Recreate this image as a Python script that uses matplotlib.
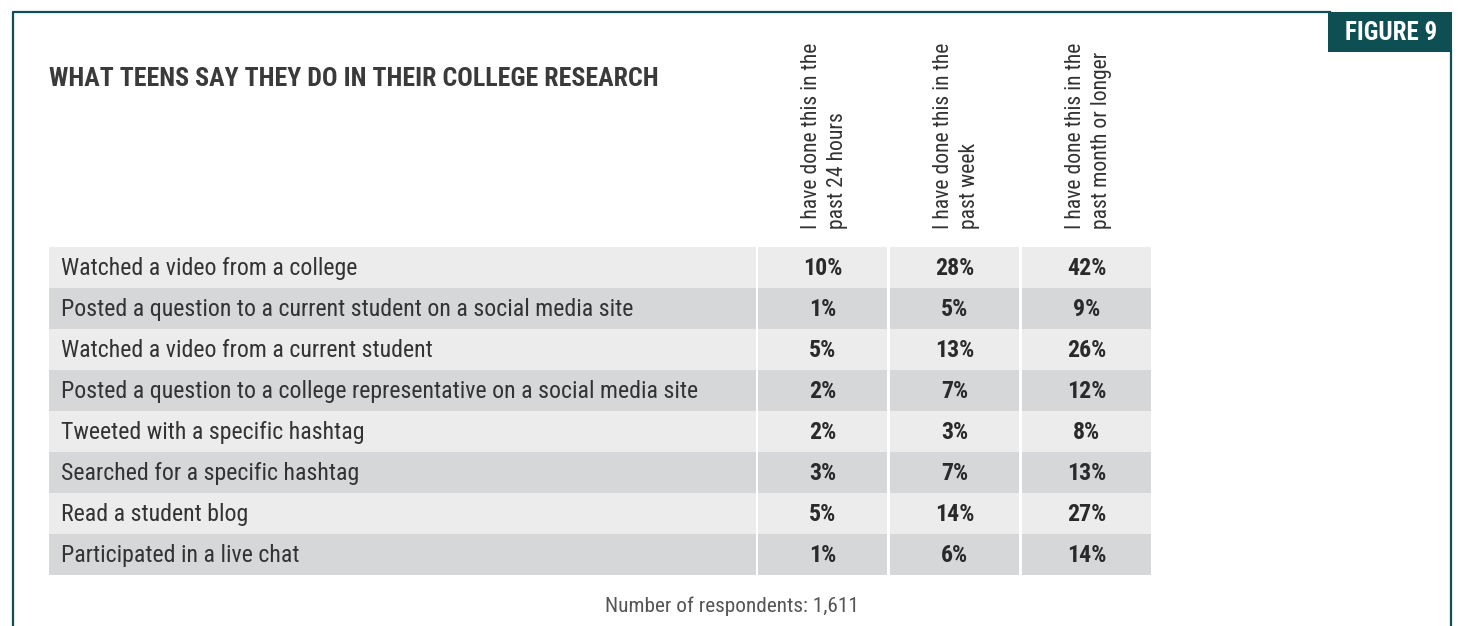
import matplotlib.pyplot as plt
from matplotlib import font_manager

# pick a condensed face if it is around, else plain Roboto
names = {f.name for f in font_manager.fontManager.ttflist}
FONT = 'Roboto Condensed' if 'Roboto Condensed' in names else 'Roboto'
plt.rcParams['font.family'] = [FONT, 'DejaVu Sans']

title = 'WHAT TEENS SAY THEY DO IN THEIR COLLEGE RESEARCH'
fig_label = 'FIGURE 9'
note = 'Number of respondents: 1,611'

columns = ['I have done this in the\npast 24 hours',
           'I have done this in the\npast week',
           'I have done this in the\npast month or longer']

activities = ['Watched a video from a college',
              'Posted a question to a current student on a social media site',
              'Watched a video from a current student',
              'Posted a question to a college representative on a social media site',
              'Tweeted with a specific hashtag',
              'Searched for a specific hashtag',
              'Read a student blog',
              'Participated in a live chat']

past_24h = [10, 1, 5, 2, 2, 3, 5, 1]
past_week = [28, 5, 13, 7, 3, 7, 14, 6]
past_month = [42, 9, 26, 12, 8, 13, 27, 14]

teal = '#0d4f52'
light = '#ececec'
dark = '#d6d7d9'
txt = '#333333'

W, H = 1458, 626
fig = plt.figure(figsize=(W / 100, H / 100), dpi=100)
ax = fig.add_axes([0, 0, 1, 1])
ax.set_xlim(0, W)
ax.set_ylim(H, 0)
ax.axis('off')

cond = FONT == 'Roboto Condensed'
k = 1.0 if cond else 0.86   # shrink plain Roboto so widths come close

# frame
ax.plot([13.5, 13.5, 1330], [H + 5, 11.5, 11.5], color=teal, lw=1.6)
ax.plot([1451.5, 1451.5], [50, H + 5], color=teal, lw=1.6)
ax.add_patch(plt.Rectangle((1328, 12), 124, 40, color=teal, lw=0))
ax.text(1391, 32.5, fig_label, color='white', ha='center', va='center',
        fontsize=18.0 * k, fontweight='bold')

ax.text(49, 79, title, color='#3a3a3a', ha='left', va='center',
        fontsize=18.6 * k, fontweight='bold')

# table
row_top, row_h = 247, 41
lab_left, lab_right = 49, 756
col_lefts = [758, 890, 1022]
col_w = 129
ys = [row_top + row_h * (i + 0.5) for i in range(len(activities))]
shades = [light if i % 2 == 0 else dark for i in range(len(activities))]

ax.barh(ys, lab_right - lab_left, left=lab_left, height=row_h, color=shades, lw=0)
for i, lab in enumerate(activities):
    ax.text(61, ys[i] + 1, lab, color=txt, ha='left', va='center', fontsize=17.2 * k)

for j, vals in enumerate([past_24h, past_week, past_month]):
    left = col_lefts[j]
    ax.barh(ys, col_w, left=left, height=row_h, color=shades, lw=0)
    for i, v in enumerate(vals):
        ax.text(left + col_w / 2, ys[i] + 1, f'{v}%', color='#2a2a2a',
                ha='center', va='center', fontsize=17.2 * k, fontweight='bold')
    ax.text(left + col_w / 2 + 2, 229, columns[j], rotation=90, color=txt,
            ha='center', va='bottom', fontsize=15.6 * k, linespacing=1.27,
            multialignment='left')

ax.text(732, 606, note, color='#555555', ha='center', va='center', fontsize=15.3 * k)

fig.savefig('out.png', dpi=100)
